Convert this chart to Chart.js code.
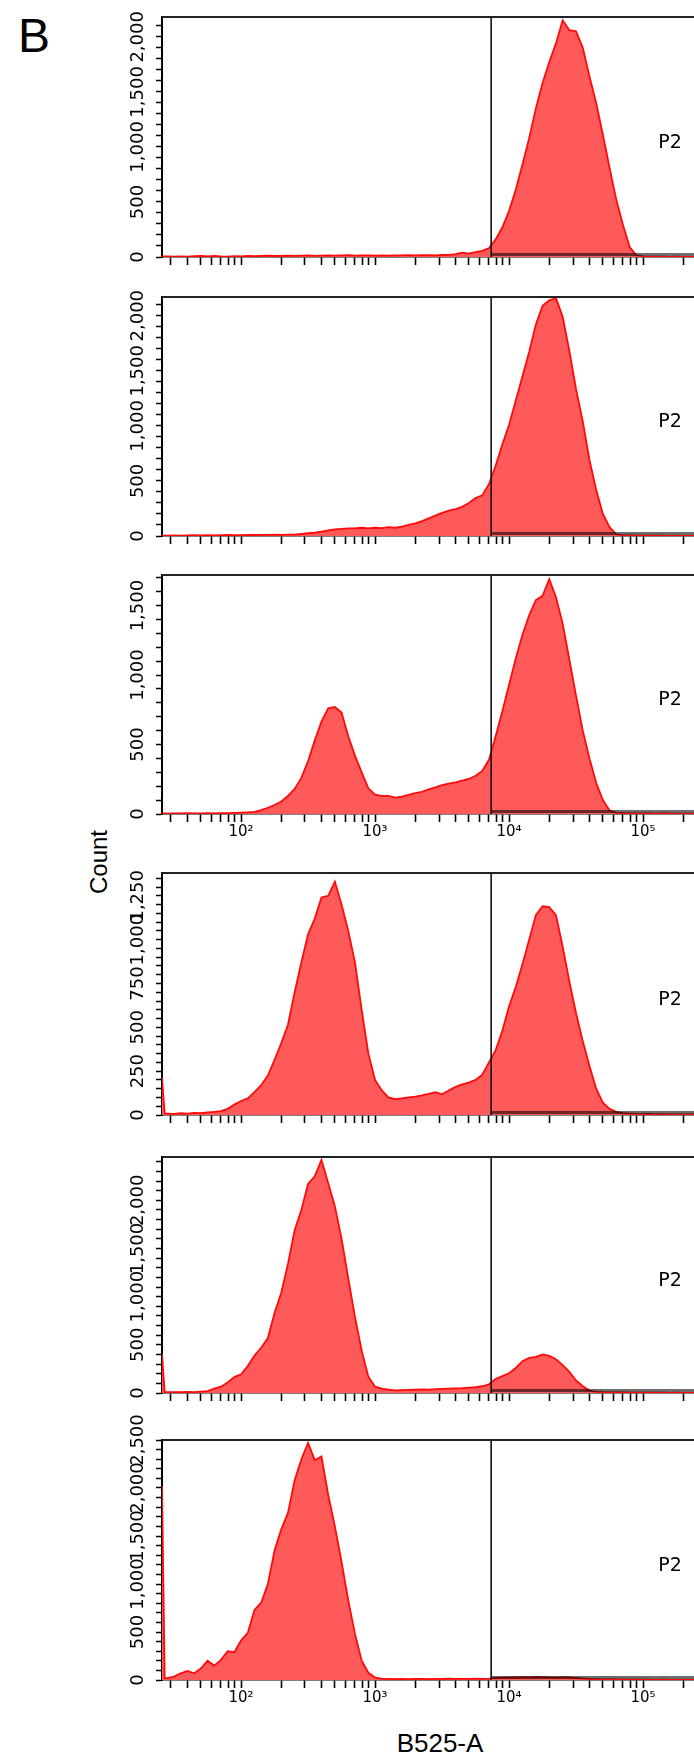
<!DOCTYPE html>
<html>
<head>
<meta charset="utf-8">
<script src="https://cdn.jsdelivr.net/npm/chart.js@4.4.1/dist/chart.umd.min.js"></script>
<style>
  body { margin: 0; background: #fff; }
  #page { position: relative; width: 694px; height: 1759px; overflow: hidden; }
  #page canvas { position: absolute; left: 0; }
  .txt { position: absolute; color: #000; white-space: nowrap; line-height: 1; font-family: "Liberation Sans", Arial, sans-serif; }
  #panelLetter { left: 18px; top: 12px; font-size: 48px; }
  #yTitle { left: 99px; top: 862px; font-size: 24px; transform: translate(-50%, -50%) rotate(-90deg); }
  #xTitle { left: 440px; top: 1743px; font-size: 26px; transform: translate(-50%, -50%); }
</style>
</head>
<body>
<div id="page">
  <div class="txt" id="panelLetter">B</div>
  <div class="txt" id="yTitle">Count</div>
  <div class="txt" id="xTitle">B525-A</div>
</div>
<script>
//Globals
// bin centres as log10(B525-A); first bin is the pile-up at the left edge
const binExp = [
  1.41, 1.43,
  1.45, 1.50, 1.55, 1.60, 1.65, 1.70, 1.75, 1.80, 1.85, 1.90, 1.95,
  2.00, 2.05, 2.10, 2.15, 2.20, 2.25, 2.30, 2.35, 2.40, 2.45, 2.50, 2.55, 2.60, 2.65, 2.70, 2.75, 2.80, 2.85, 2.90, 2.95,
  3.00, 3.05, 3.10, 3.15, 3.20, 3.25, 3.30, 3.35, 3.40, 3.45, 3.50, 3.55, 3.60, 3.65, 3.70, 3.75, 3.80, 3.85, 3.90, 3.95,
  4.00, 4.05, 4.10, 4.15, 4.20, 4.25, 4.30, 4.35, 4.40, 4.45, 4.50, 4.55, 4.60, 4.65, 4.70, 4.75, 4.80, 4.85, 4.90, 4.95,
  5.00, 5.05, 5.10, 5.15, 5.20, 5.25, 5.30, 5.35, 5.38
];

const counts1 = [
  6, 5,
  5, 3, 6, 4, 8, 10, 6, 9, 5, 4, 8,
  6, 9, 7, 10, 12, 9, 11, 13, 10, 12, 14, 11, 13, 15, 12, 14, 16, 13, 15, 14,
  12, 14, 13, 15, 14, 16, 15, 17, 16, 15, 18, 20, 25, 40, 30, 45, 55, 80, 160, 270,
  420, 610, 840, 1080, 1350, 1580, 1770, 1940, 2150, 2060, 2050, 1900, 1640, 1400, 1110, 810, 520, 290, 90, 15,
  6, 4, 3, 4, 2, 3, 2, 2, 2
];
const counts2 = [
  5, 4,
  4, 6, 3, 5, 7, 5, 8, 6, 7, 9, 8,
  8, 10, 9, 11, 10, 12, 11, 13, 12, 18, 25, 30, 40, 50, 60, 65, 70, 70, 75, 70,
  75, 72, 80, 75, 85, 100, 115, 135, 160, 185, 210, 230, 245, 265, 300, 345, 370, 470, 640, 830,
  1010, 1230, 1450, 1670, 1920, 2090, 2140, 2160, 1990, 1680, 1330, 1040, 690, 420, 200, 80, 15, 6, 5, 4,
  4, 3, 3, 4, 2, 3, 2, 2, 2
];
const counts3 = [
  5, 4,
  3, 5, 4, 6, 5, 4, 6, 5, 7, 6, 8,
  10, 12, 15, 28, 45, 65, 90, 130, 180, 260, 380, 530, 665, 760, 770, 730, 560, 420, 300, 185,
  140, 130, 130, 118, 125, 138, 150, 160, 178, 192, 208, 218, 228, 240, 252, 275, 310, 390, 560, 740,
  930, 1120, 1290, 1430, 1540, 1570, 1690, 1560, 1370, 1110, 850, 600, 400, 225, 100, 25, 8, 6, 5, 4,
  4, 5, 3, 4, 3, 2, 3, 2, 2
];
const counts4 = [
  215, 8,
  8, 6, 10, 8, 12, 10, 15, 18, 22, 35, 60,
  80, 95, 130, 170, 225, 315, 410, 515, 700, 870, 1030, 1120, 1240, 1250, 1330, 1200, 1050, 870, 600, 350,
  200, 140, 100, 90, 95, 100, 105, 112, 120, 130, 118, 140, 160, 175, 185, 200, 230, 300, 370, 480,
  620, 730, 860, 1000, 1140, 1190, 1185, 1140, 960, 760, 580, 420, 280, 150, 70, 35, 18, 10, 8, 6,
  5, 6, 4, 5, 3, 4, 3, 3, 3
];
const counts5 = [
  400, 10,
  8, 10, 8, 12, 10, 15, 20, 45, 65, 110, 165,
  195, 280, 390, 470, 570, 830, 1040, 1340, 1690, 1900, 2170, 2250, 2420, 2180, 1940, 1600, 1190, 790, 440, 170,
  65, 45, 35, 28, 30, 32, 35, 38, 35, 40, 42, 45, 48, 50, 55, 60, 70, 90, 145, 175,
  205, 260, 330, 365, 375, 400, 385, 350, 290, 220, 130, 70, 25, 12, 8, 6, 5, 5, 4, 4,
  4, 3, 3, 4, 2, 3, 2, 2, 2
];
const counts6 = [
  2020, 20,
  20, 35, 70, 95, 70, 120, 200, 150, 210, 300, 290,
  410, 490, 730, 805, 1000, 1350, 1570, 1740, 2080, 2300, 2470, 2290, 2330, 1930, 1600, 1230, 830, 480, 200, 75,
  25, 15, 12, 10, 12, 10, 11, 12, 10, 12, 11, 13, 12, 11, 12, 13, 12, 14, 22, 25,
  28, 26, 30, 28, 32, 30, 28, 25, 30, 26, 20, 15, 10, 8, 6, 5, 5, 4, 4, 3,
  3, 3, 2, 3, 2, 2, 2, 2, 2
];
const allCounts = [counts1, counts2, counts3, counts4, counts5, counts6];

// axes
const xMinExp = 1.41;
const xMaxExp = 5.38;
const decadeLabels = { 100: '10²', 1000: '10³', 10000: '10⁴', 100000: '10⁵' };
const yMax = [2180, 2170, 1720, 1380, 2450, 2500];
const yMinorStep = [100, 100, 100, 50, 100, 100];
const yLabels = [
  [0, 500, 1000, 1500, 2000],
  [0, 500, 1000, 1500, 2000],
  [0, 500, 1000, 1500],
  [0, 250, 500, 750, 1000, 1250],
  [0, 500, 1000, 1500, 2000],
  [0, 500, 1000, 1500, 2000, 2500]
];
const showXLabels = [false, false, true, false, false, true];

// gate
const gateName = 'P2';
const gateValue = 7350;

// layout (page pixels)
const panelTop = [17, 297, 575, 873, 1157, 1440];
const panelBottom = [257, 536, 814, 1115, 1393, 1680];
const PAD_TOP = 30;
const Y_AXIS_WIDTH = 162;

function xTickValues() {
    const list = [];
    for (let exp = 1; exp <= 5; exp++) {
        for (let m = 1; m <= 9; m++) {
            const v = m * Math.pow(10, exp);
            if (v >= 30 && v <= 200000) list.push(v);
        }
    }
    return list;
}

function yTickValues(max, step) {
    const list = [];
    for (let v = 0; v <= max; v += step) list.push({ value: v });
    return list;
}

const panelDecor = {
    id: 'panelDecor',
    afterDatasetsDraw(chart, args, opts) {
        const { ctx, chartArea: a, scales: { x, y } } = chart;
        const gx = x.getPixelForValue(gateValue);
        ctx.save();

        // bottom edge of the gate, darkens the red where it overlaps
        ctx.globalCompositeOperation = 'multiply';
        ctx.strokeStyle = '#6e6e6e';
        ctx.lineWidth = 3;
        ctx.beginPath();
        ctx.moveTo(gx, a.bottom - 2.5);
        ctx.lineTo(a.right, a.bottom - 2.5);
        ctx.stroke();
        ctx.globalCompositeOperation = 'source-over';

        // gate boundary
        ctx.strokeStyle = '#111';
        ctx.lineWidth = 1.6;
        ctx.beginPath();
        ctx.moveTo(gx, a.top);
        ctx.lineTo(gx, a.bottom);
        ctx.stroke();

        // top of frame
        ctx.strokeStyle = '#222';
        ctx.lineWidth = 2;
        ctx.beginPath();
        ctx.moveTo(a.left, a.top);
        ctx.lineTo(a.right, a.top);
        ctx.stroke();

        ctx.fillStyle = '#000';
        ctx.textAlign = 'center';
        ctx.textBaseline = 'middle';
        ctx.font = '19px "DejaVu Sans"';
        ctx.fillText(gateName, 670, (a.top + a.bottom) / 2 + 6);

        // rotated count labels
        ctx.font = '18px "DejaVu Sans"';
        opts.labels.forEach(v => {
            const py = y.getPixelForValue(v);
            ctx.save();
            ctx.translate(138, py);
            ctx.rotate(-Math.PI / 2);
            ctx.fillText(v.toLocaleString('en-US'), 0, 0);
            ctx.restore();
        });
        ctx.restore();
    }
};

function drawPanel(i) {
    const page = document.getElementById('page');
    const xAxisHeight = showXLabels[i] ? 36 : 12;
    const canvas = document.createElement('canvas');
    canvas.width = 694;
    canvas.height = PAD_TOP + (panelBottom[i] - panelTop[i]) + xAxisHeight;
    canvas.style.top = (panelTop[i] - PAD_TOP) + 'px';
    page.appendChild(canvas);

    const points = binExp.map((e, k) => ({ x: Math.pow(10, e), y: allCounts[i][k] }));

    new Chart(canvas.getContext('2d'), {
        type: 'line',
        data: {
            datasets: [{
                data: points,
                fill: 'origin',
                backgroundColor: 'rgb(255, 90, 90)',
                borderColor: 'rgb(255, 10, 10)',
                borderWidth: 1.8,
                pointRadius: 0,
                tension: 0
            }]
        },
        options: {
            responsive: false,
            animation: false,
            events: [],
            layout: { padding: { top: PAD_TOP, left: 0, right: 0, bottom: 0 } },
            plugins: {
                legend: { display: false },
                tooltip: { enabled: false },
                panelDecor: { labels: yLabels[i] }
            },
            scales: {
                x: {
                    type: 'logarithmic',
                    min: Math.pow(10, xMinExp),
                    max: Math.pow(10, xMaxExp),
                    afterBuildTicks: s => { s.ticks = xTickValues().map(v => ({ value: v })); },
                    afterFit: s => { s.height = xAxisHeight; },
                    border: { display: true, color: '#000', width: 1.6 },
                    grid: { drawOnChartArea: false, drawTicks: true, tickLength: 8, tickWidth: 1.6, tickColor: '#000' },
                    ticks: {
                        display: showXLabels[i],
                        autoSkip: false,
                        minRotation: 0,
                        maxRotation: 0,
                        padding: 1,
                        color: '#000',
                        font: { family: 'DejaVu Sans', size: 15 },
                        callback: v => decadeLabels[v] || ''
                    }
                },
                y: {
                    type: 'linear',
                    min: 0,
                    max: yMax[i],
                    afterBuildTicks: s => { s.ticks = yTickValues(yMax[i], yMinorStep[i]); },
                    afterFit: s => { s.width = Y_AXIS_WIDTH; },
                    border: { display: true, color: '#000', width: 2 },
                    grid: { drawOnChartArea: false, drawTicks: true, tickLength: 6, tickWidth: 1.5, tickColor: '#000' },
                    ticks: { display: false }
                }
            }
        },
        plugins: [panelDecor]
    });
}

function startApp() {
    for (let i = 0; i < allCounts.length; i++) {
        drawPanel(i);
    }
}

window.onload = startApp;
</script>
</body>
</html>
